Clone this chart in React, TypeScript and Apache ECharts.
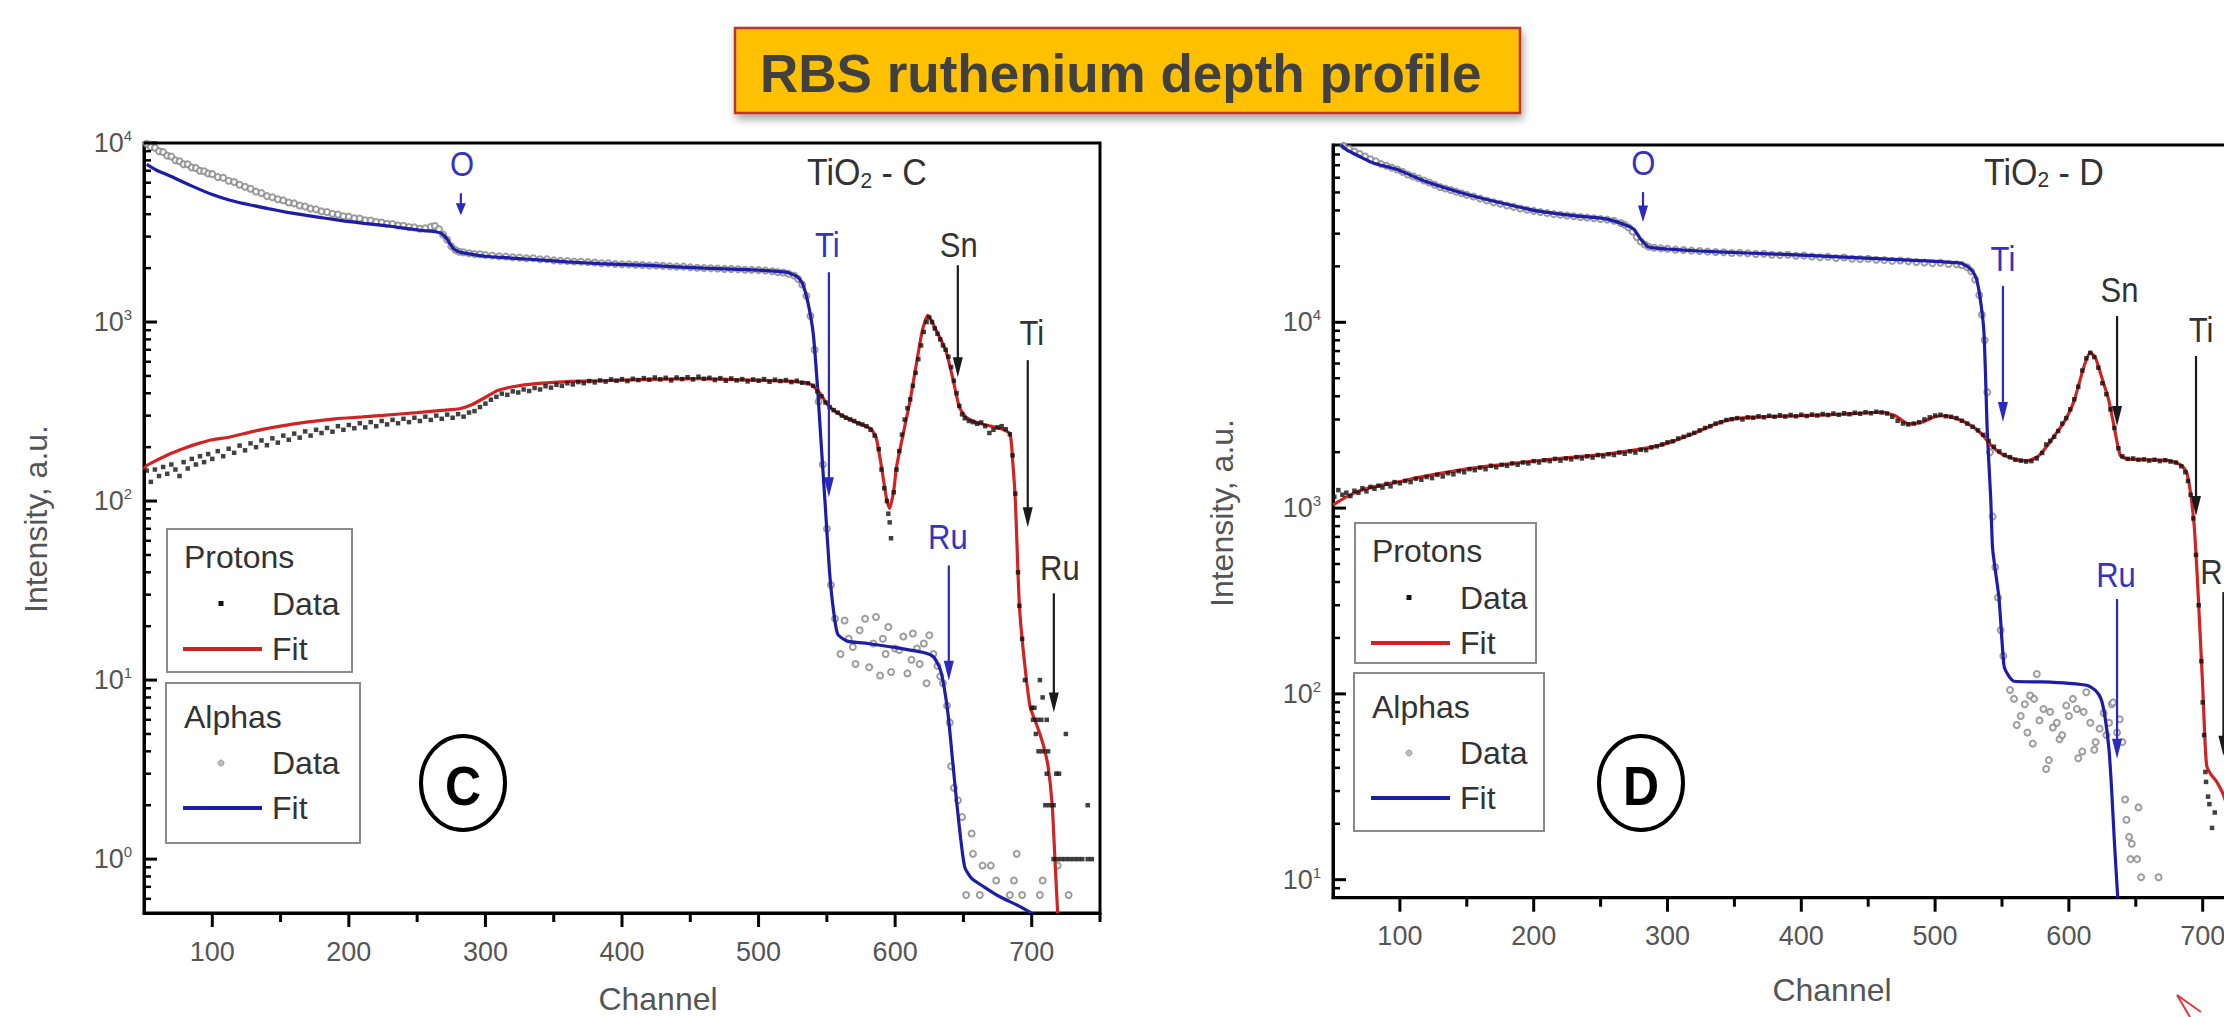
import React, { useEffect, useRef } from 'react';
import * as echarts from 'echarts';

const FONT = "'Liberation Sans', Arial, Helvetica, sans-serif";
const BLUE = '#1d1da8';
const RED = '#d02424';
const ANN_BLUE = '#3434bd';
const TEXT = '#333333';
const AXIS_TEXT = '#555555';
const GRAY = '#858585';

// ---------- Panel C (TiO2 - C) ----------
const alphaFitC: [number, number][] = [
  [52, 7600], [60, 7000], [70, 6500], [84, 5800], [100, 5150], [113, 4790], [127, 4520], [141, 4300],
  [155, 4100], [169, 3940], [183, 3800], [197, 3665], [211, 3560], [225, 3470], [239, 3360], [253, 3250],
  [264, 3185], [268, 3120], [272, 2900], [276, 2600], [280, 2480], [286, 2420], [300, 2330], [330, 2250],
  [360, 2170], [384, 2120], [420, 2070], [460, 2000], [500, 1950], [520, 1900], [528, 1800], [532, 1650],
  [536, 1300], [540, 865], [543, 450], [546, 200], [549, 90], [552, 40], [555, 24], [558, 18], [565, 16.5],
  [580, 16], [600, 15.2], [620, 14.3], [628, 13.5], [633, 11.5], [636, 9], [639, 6.2], [642, 3.6],
  [645, 2.1], [648, 1.3], [651, 0.9], [656, 0.78], [665, 0.7], [676, 0.62], [690, 0.55], [701, 0.495],
];

const alphaDataC: [number, number][] = [
  [52, 9900], [55, 9500], [58, 9400], [61, 9000], [64, 8900], [67, 8500], [70, 8400], [73, 8000], [76, 7900],
  [79, 7600], [82, 7600], [85, 7300], [88, 7250], [91, 7000], [94, 6950], [97, 6750], [100, 6700], [104, 6450],
  [108, 6400], [112, 6150], [116, 6050], [120, 5850], [124, 5700], [128, 5550], [132, 5350], [136, 5250],
  [140, 5050], [144, 4980], [148, 4850], [152, 4780], [156, 4650], [160, 4600], [164, 4480], [168, 4420],
  [172, 4300], [176, 4260], [180, 4150], [184, 4120], [188, 4020], [192, 3990], [196, 3900], [200, 3880],
  [204, 3800], [208, 3790], [212, 3700], [216, 3690], [220, 3620], [224, 3600], [228, 3540], [232, 3530],
  [236, 3460], [240, 3450], [244, 3390], [248, 3380], [252, 3320], [256, 3340], [260, 3400], [263, 3440],
  [266, 3300], [269, 3080], [272, 2880], [275, 2650], [278, 2530], [281, 2470], [284, 2450], [288, 2420],
  [292, 2400], [296, 2390], [300, 2370], [305, 2350], [310, 2330], [315, 2320], [320, 2300], [325, 2290],
  [330, 2270], [335, 2270], [340, 2240], [345, 2240], [350, 2210], [355, 2200], [360, 2190], [365, 2180],
  [370, 2170], [375, 2160], [380, 2150], [385, 2130], [390, 2130], [395, 2110], [400, 2100], [405, 2100],
  [410, 2090], [415, 2080], [420, 2070], [425, 2070], [430, 2060], [435, 2050], [440, 2040], [445, 2040],
  [450, 2020], [455, 2010], [460, 2000], [465, 1995], [470, 1990], [475, 1980], [480, 1980], [485, 1970],
  [490, 1960], [495, 1955], [500, 1950], [505, 1940], [510, 1920], [514, 1900], [518, 1890], [522, 1860],
  [526, 1820], [529, 1740], [532, 1620], [535, 1400], [538, 1080], [541, 700], [544, 360], [547, 160],
  [550, 70], [553, 34],
  [556, 22], [560, 14], [563, 21.5], [566, 17], [569, 15.3], [571, 12.3], [574, 19], [578, 22], [581, 11.8],
  [584, 16], [586, 22.5], [589, 10.6], [591, 17], [593, 14], [595, 19.8], [597, 11.1], [600, 15], [603, 14.7],
  [606, 17.5], [609, 10.9], [612, 13], [613, 18.2], [616, 15], [618, 12.3], [621, 16], [623, 9.6], [625, 17.8],
  [628, 14], [631, 12], [633, 10.5], [635, 9.6], [638, 7.2], [640, 5.8], [641, 3.3], [643, 2.5], [646, 2.13],
  [649, 1.72],
  [652, 0.63], [656, 1.39], [657, 1.07], [662, 0.63], [664, 0.92], [670, 0.92], [674, 0.76], [684, 0.63],
  [687, 0.76], [689, 1.07], [693, 0.63], [706, 0.63], [708, 0.76], [719, 0.92], [727, 0.63],
];

const protonFitC: [number, number][] = [
  [50, 150], [52, 158], [60, 170], [70, 185], [80, 198], [90, 210], [100, 220], [113, 228], [130, 245],
  [150, 262], [169, 276], [190, 288], [210, 295], [225, 301], [250, 312], [270, 322], [281, 328], [290, 345],
  [300, 380], [309, 415], [320, 435], [337, 453], [360, 465], [384, 470], [420, 478], [457, 483], [490, 475],
  [520, 468], [537, 453], [545, 400], [550, 350], [555, 321], [565, 290], [575, 268], [582, 254], [586, 228],
  [590, 155], [594, 100], [596, 91], [599, 115], [601, 155], [606, 239], [611, 366], [616, 611], [620, 900],
  [624, 1090], [630, 900], [637, 695], [642, 493], [647, 335], [652, 294], [660, 275], [670, 262], [677, 254],
  [684, 238], [686, 170], [688, 101], [691, 26], [695, 12], [699, 7], [703, 5.8], [706, 5.0], [709, 4.2],
  [712, 3.3], [715, 2], [717, 1], [719, 0.5],
];

const protonDataC: [number, number][] = [
  [52, 148], [55, 128], [58, 150], [61, 138], [64, 155], [67, 142], [70, 160], [73, 150], [76, 138], [79, 165],
  [82, 152], [85, 172], [88, 160], [91, 178], [94, 165], [97, 183], [100, 172], [104, 190], [108, 178],
  [112, 196], [116, 186], [120, 204], [124, 192], [128, 210], [132, 200], [136, 218], [140, 205], [144, 224],
  [148, 212], [152, 232], [156, 220], [160, 238], [164, 226], [168, 245], [172, 232], [176, 250], [180, 240],
  [184, 256], [188, 244], [192, 262], [196, 250], [200, 266], [204, 255], [208, 272], [212, 258], [216, 276],
  [220, 262], [224, 280], [228, 268], [232, 284], [236, 272], [240, 288], [244, 276], [248, 292], [252, 280],
  [256, 296], [260, 284], [264, 300], [268, 288], [272, 304], [276, 292], [280, 306], [284, 296], [288, 312],
  [292, 318], [296, 335], [300, 350], [304, 368], [308, 382], [312, 398], [316, 392], [320, 410], [324, 404],
  [328, 420], [332, 412], [336, 428], [340, 420], [344, 438], [348, 430], [352, 446], [356, 440], [360, 455],
  [364, 448], [368, 462], [372, 455], [376, 468], [380, 460], [384, 472], [388, 465], [392, 478], [396, 470],
  [400, 480], [404, 468], [408, 482], [412, 474], [416, 486], [420, 476], [424, 490], [428, 478], [432, 488],
  [436, 472], [440, 490], [444, 480], [448, 492], [452, 478], [456, 495], [460, 482], [464, 488], [468, 474],
  [472, 486], [476, 470], [480, 484], [484, 472], [488, 480], [492, 466], [496, 478], [500, 470], [504, 480],
  [508, 464], [512, 476], [516, 468], [520, 474], [524, 462], [528, 470], [532, 458], [536, 455], [540, 440],
  [543, 410], [546, 385], [549, 355], [552, 335], [555, 322], [558, 312], [561, 300], [564, 292], [567, 286],
  [570, 280], [573, 272], [576, 268], [579, 262], [582, 250], [585, 232], [588, 195], [590, 150], [592, 118],
  [594, 100], [595, 85], [596, 76], [597, 62], [599, 112], [601, 150], [603, 190], [605, 235], [607, 285],
  [609, 330], [611, 370], [613, 440], [615, 520], [617, 620], [619, 740], [621, 880], [623, 1000], [625, 1060],
  [627, 1000], [629, 920], [631, 860], [633, 800], [635, 740], [637, 700], [639, 640], [641, 560], [643, 470],
  [645, 400], [647, 340], [649, 305], [651, 290], [654, 280], [657, 276], [660, 270], [663, 275], [666, 262],
  [669, 240], [672, 250], [675, 258], [678, 262], [681, 252], [684, 236], [686, 180], [688, 110], [690, 40],
  [691, 26], [693, 17], [695, 10], [700, 7], [702, 7], [701, 6], [704, 6], [707, 6], [711, 6], [706, 10],
  [708, 8], [703, 5], [725, 5], [705, 4], [708, 4], [712, 4], [711, 3], [718, 3], [720, 3], [710, 2], [713, 2],
  [716, 2], [741, 2], [716, 1], [719, 1], [722, 1], [725, 1], [728, 1], [731, 1], [734, 1], [737, 1], [741, 1],
  [744, 1],
];

// ---------- Panel D (TiO2 - D) ----------
const alphaFitD: [number, number][] = [
  [56, 90000], [60, 85000], [70, 78000], [80, 72000], [97, 66800], [120, 57000], [149, 49000], [175, 44000],
  [202, 39800], [230, 37500], [254, 36000], [270, 33100], [275, 31600], [280, 28000], [286, 25400],
  [300, 24800], [324, 24200], [360, 23600], [400, 23000], [440, 22300], [480, 21600], [519, 20800],
  [526, 19500], [530, 17800], [533, 14500], [536.5, 8840], [539, 2570], [541.6, 1120], [543, 603],
  [547.8, 325], [551.5, 142], [555, 125], [559, 117], [580, 116], [600, 114], [614, 111], [620, 104],
  [624, 94], [627, 75], [630, 50], [632, 30], [634, 16], [636.5, 8],
];

const alphaDataD: [number, number][] = [
  [58, 89000], [62, 86000], [66, 83000], [70, 80500], [74, 78000], [78, 75500], [82, 73500], [86, 71000],
  [90, 69500], [94, 68000], [98, 66500], [102, 64500], [106, 62500], [110, 61000], [114, 59500], [118, 58000],
  [122, 56500], [126, 55000], [130, 53500], [134, 52500], [138, 51500], [142, 50500], [146, 49500],
  [150, 48500], [155, 47500], [160, 46300], [165, 45200], [170, 44300], [175, 43500], [180, 42500],
  [185, 41800], [190, 41000], [195, 40300], [200, 39800], [205, 39200], [210, 38700], [215, 38200],
  [220, 37900], [225, 37500], [230, 37200], [235, 36900], [240, 36600], [245, 36300], [250, 36000],
  [255, 35700], [260, 35200], [265, 34200], [268, 33500], [271, 32400], [274, 30800], [277, 28800],
  [280, 27200], [283, 26200], [286, 25500], [290, 25200], [295, 25000], [300, 24900], [306, 24600],
  [312, 24500], [318, 24300], [324, 24200], [330, 24000], [336, 23900], [342, 23800], [348, 23600],
  [354, 23700], [360, 23500], [366, 23300], [372, 23400], [378, 23100], [384, 23000], [390, 23100],
  [396, 22800], [402, 22900], [408, 22600], [414, 22400], [420, 22500], [426, 22200], [432, 22300],
  [438, 22000], [444, 21900], [450, 22000], [456, 21700], [462, 21600], [468, 21400], [474, 21500],
  [480, 21300], [486, 21100], [492, 21000], [498, 20800], [504, 20900], [510, 20600], [516, 20500],
  [520, 20300], [524, 19800], [527, 18800], [530, 17000], [533, 14000], [535, 11000], [537, 8000],
  [539, 4200], [541, 2000], [543, 900], [545, 480], [547, 330], [549, 220], [551, 160],
  [556, 105], [559, 94], [561, 68], [564, 76], [567, 88], [569, 62], [571, 98], [573, 54], [574, 94],
  [576, 128], [578, 72], [581, 83], [583, 39.4], [585, 44], [586, 80], [588, 66], [591, 70], [593, 57],
  [595, 60], [598, 86.5], [600, 76], [603, 94], [606, 83], [607, 45], [610, 49], [611, 80], [613, 102],
  [616, 70], [619, 50], [620, 55], [623, 65], [626, 79], [628, 60], [630, 70], [632, 88], [633, 90],
  [636, 62], [638, 73], [640, 55],
  [642, 27], [643, 21], [645, 17], [647, 15.6], [646, 12.9], [651, 12.9], [652, 24.5], [654, 10.3],
  [667, 10.3],
];

const protonFitD: [number, number][] = [
  [50, 1040], [52, 1060], [60, 1150], [70, 1240], [80, 1300], [97, 1377], [120, 1490], [149, 1622],
  [175, 1710], [202, 1798], [230, 1880], [254, 1954], [275, 2050], [293, 2168], [305, 2300], [315, 2450],
  [324, 2600], [335, 2820], [349, 3020], [370, 3100], [399, 3140], [430, 3200], [460, 3280], [470, 3150],
  [480, 2840], [490, 2900], [500, 3100], [507, 3140], [518, 3000], [529, 2720], [536, 2450], [542, 2170],
  [550, 1950], [560, 1830], [569, 1800], [577, 1900], [584, 2170], [590, 2500], [595, 2800], [599, 3140],
  [604, 3800], [608, 4800], [612, 6000], [616, 6900], [620, 6400], [624, 5200], [629.6, 3860], [634, 2700],
  [638.5, 1914], [645, 1838], [660, 1820], [675, 1800], [684, 1700], [688, 1560], [691, 1200], [693, 900],
  [694, 743], [696, 420], [698, 215], [700, 110], [701.5, 60], [703, 41], [706, 37], [710.5, 33.6],
  [716, 28], [722, 20], [728, 12],
];

const protonDataD: [number, number][] = [
  [51, 1150], [54, 1250], [57, 1180], [60, 1210], [63, 1160], [66, 1240], [69, 1210], [72, 1280], [75, 1230],
  [78, 1300], [81, 1270], [84, 1320], [87, 1290], [90, 1350], [93, 1310], [96, 1380], [100, 1360], [104, 1400],
  [108, 1380], [112, 1440], [116, 1420], [120, 1470], [124, 1450], [128, 1510], [132, 1480], [136, 1540],
  [140, 1520], [144, 1580], [148, 1560], [152, 1620], [156, 1600], [160, 1650], [164, 1620], [168, 1690],
  [172, 1660], [176, 1710], [180, 1690], [184, 1740], [188, 1710], [192, 1760], [196, 1740], [200, 1790],
  [204, 1760], [208, 1810], [212, 1790], [216, 1840], [220, 1800], [224, 1850], [228, 1830], [232, 1880],
  [236, 1850], [240, 1900], [244, 1870], [248, 1930], [252, 1900], [256, 1950], [260, 1930], [264, 1990],
  [268, 1960], [272, 2020], [276, 1990], [280, 2060], [284, 2050], [288, 2120], [292, 2150], [296, 2200],
  [300, 2260], [304, 2290], [308, 2370], [312, 2420], [316, 2480], [320, 2540], [324, 2620], [328, 2700],
  [332, 2760], [336, 2850], [340, 2900], [344, 2980], [348, 3010], [352, 3050], [356, 3000], [360, 3080],
  [364, 3060], [368, 3120], [372, 3080], [376, 3140], [380, 3100], [384, 3160], [388, 3110], [392, 3170],
  [396, 3120], [400, 3180], [404, 3130], [408, 3190], [412, 3150], [416, 3210], [420, 3170], [424, 3230],
  [428, 3180], [432, 3240], [436, 3200], [440, 3260], [444, 3220], [448, 3280], [452, 3240], [456, 3300],
  [460, 3270], [464, 3230], [468, 3100], [472, 2950], [476, 2850], [480, 2820], [484, 2850], [488, 2900],
  [492, 3000], [496, 3080], [500, 3150], [504, 3180], [508, 3120], [512, 3100], [516, 3050], [520, 2950],
  [524, 2850], [528, 2740], [532, 2620], [536, 2480], [540, 2300], [544, 2140], [548, 2020], [552, 1930],
  [556, 1880], [560, 1820], [564, 1800], [568, 1780], [572, 1790], [576, 1850], [580, 1980], [583, 2200],
  [586, 2300], [589, 2420], [592, 2600], [595, 2850], [598, 3050], [601, 3400], [604, 3850], [607, 4500],
  [610, 5500], [613, 6400], [616, 6850], [619, 6500], [622, 5700], [625, 4700], [628, 4100], [631, 3400],
  [634, 2700], [637, 2100], [640, 1900], [644, 1840], [648, 1850], [652, 1820], [656, 1830], [660, 1800],
  [664, 1820], [668, 1790], [672, 1810], [676, 1780], [680, 1760], [684, 1680], [687, 1560], [689, 1400],
  [691, 1180], [693, 880], [695, 560], [697, 300], [699, 150], [700, 90], [701, 60], [702, 38], [702.5, 33.6],
  [704, 28], [705, 25.5], [707, 19], [709, 23],
];

// ---------- ticks ----------
const xMajorTicks = [100, 200, 300, 400, 500, 600, 700];
const xMinorTicks = [150, 250, 350, 450, 550, 650, 750];
const yMajorC = [1, 10, 100, 1000, 10000];
const yMinorC = [0.6, 0.7, 0.8, 0.9, 2, 3, 4, 5, 6, 7, 8, 9, 20, 30, 40, 50, 60, 70, 80, 90,
  200, 300, 400, 500, 600, 700, 800, 900, 2000, 3000, 4000, 5000, 6000, 7000, 8000, 9000];
const yMajorD = [10, 100, 1000, 10000];
const yMinorD = [9, 20, 30, 40, 50, 60, 70, 80, 90, 200, 300, 400, 500, 600, 700, 800, 900,
  2000, 3000, 4000, 5000, 6000, 7000, 8000, 9000, 20000, 30000, 40000, 50000, 60000, 70000, 80000];

// ---------- annotations (data coordinates) ----------
const annotationsC = [
  { label: 'O', color: ANN_BLUE, ch: 282.8, v: 7600, arrow: [282, 5240, 3945] },
  { label: 'Ti', color: ANN_BLUE, ch: 550.4, v: 2683, arrow: [551.5, 1897, 105] },
  { label: 'Sn', color: TEXT, ch: 646.6, v: 2683, arrow: [645.9, 2076, 491] },
  { label: 'Ti', color: TEXT, ch: 700, v: 865, arrow: [697.1, 612, 71.3] },
  { label: 'Ru', color: ANN_BLUE, ch: 638.6, v: 62.7, arrow: [639.3, 43.7, 9.9] },
  { label: 'Ru', color: TEXT, ch: 720.6, v: 42.6, arrow: [716.2, 30.5, 6.6] },
];
const annotationsD = [
  { label: 'O', color: ANN_BLUE, ch: 282, v: 71900, arrow: [281.7, 50200, 34700] },
  { label: 'Ti', color: ANN_BLUE, ch: 550.7, v: 21900, arrow: [550.7, 15700, 2904] },
  { label: 'Sn', color: TEXT, ch: 637.8, v: 14900, arrow: [636, 10800, 2767] },
  { label: 'Ti', color: TEXT, ch: 698.7, v: 9080, arrow: [695, 6590, 906] },
  { label: 'Ru', color: ANN_BLUE, ch: 635.2, v: 437, arrow: [636, 324, 44.7] },
  { label: 'Ru', color: TEXT, ch: 713, v: 453, arrow: [715.5, 353, 46.4] },
];
const sampleC = { name: 'C', ch: 535.4, v: 6860 };
const sampleD = { name: 'D', ch: 536.5, v: 64400 };

const X_MIN = 50;
const X_MAX = 750;
const Y_MIN_C = 0.5;
const Y_MAX_C = 10000;
const Y_MIN_D = 8;
const Y_MAX_D = 90000;

function tickData(yMaj: number[], yMin: number[]) {
  return [
    ...xMajorTicks.map((v) => [0, v]),
    ...xMinorTicks.map((v) => [1, v]),
    ...yMaj.map((v) => [2, v]),
    ...yMin.map((v) => [3, v]),
  ];
}

function tickRenderer(xLo: number, yLo: number) {
  return (_params: any, api: any) => {
    const kind = api.value(0);
    const val = api.value(1);
    if (kind <= 1) {
      const p = api.coord([val, yLo]);
      const len = kind === 0 ? 14 : 9;
      return { type: 'line', shape: { x1: p[0], y1: p[1], x2: p[0], y2: p[1] + len }, style: { stroke: '#000', lineWidth: 3 } };
    }
    const p = api.coord([xLo, val]);
    const len = kind === 2 ? 13 : 7;
    return { type: 'line', shape: { x1: p[0], y1: p[1], x2: p[0] + len, y2: p[1] }, style: { stroke: '#000', lineWidth: kind === 2 ? 3 : 2.5 } };
  };
}

const yLabel = {
  margin: 12,
  color: AXIS_TEXT,
  formatter: (v: number) => {
    const l = Math.log10(v);
    const e = Math.round(l);
    return Math.abs(l - e) < 1e-6 ? `{b|10}{s|${e}}` : '';
  },
  rich: {
    b: { fontSize: 27, color: AXIS_TEXT, fontFamily: FONT, lineHeight: 30 },
    s: { fontSize: 15, color: AXIS_TEXT, fontFamily: FONT, verticalAlign: 'top', lineHeight: 16 },
  },
};

const xLabel = {
  margin: 25,
  color: AXIS_TEXT,
  fontSize: 27,
  fontFamily: FONT,
  formatter: (v: number) => (v % 100 === 0 ? String(v) : ''),
};

function xAxisCfg(gridIndex: number) {
  return {
    type: 'value', gridIndex, min: X_MIN, max: X_MAX, interval: 50,
    axisLine: { show: true, lineStyle: { color: '#000', width: 3 } },
    axisTick: { show: false }, splitLine: { show: false }, axisLabel: xLabel,
  };
}
function yAxisCfg(gridIndex: number, min: number, max: number) {
  return {
    type: 'log', logBase: 10, gridIndex, min, max,
    axisLine: { show: true, lineStyle: { color: '#000', width: 3 } },
    axisTick: { show: false }, minorTick: { show: false }, splitLine: { show: false }, axisLabel: yLabel,
  };
}

function panelSeries(idx: number, aData: any, aFit: any, pFit: any, pData: any, ticks: any, yLo: number) {
  return [
    { type: 'scatter', xAxisIndex: idx, yAxisIndex: idx, data: aData, symbol: 'emptyCircle', symbolSize: 6,
      itemStyle: { color: GRAY, borderWidth: 1.3 }, z: 2, silent: true },
    { type: 'line', xAxisIndex: idx, yAxisIndex: idx, data: aFit, showSymbol: false, smooth: 0.2,
      lineStyle: { color: BLUE, width: 3.2 }, z: 3, silent: true },
    { type: 'line', xAxisIndex: idx, yAxisIndex: idx, data: pFit, showSymbol: false, smooth: 0.2,
      lineStyle: { color: RED, width: 3.2 }, z: 3, silent: true },
    { type: 'scatter', xAxisIndex: idx, yAxisIndex: idx, data: pData, symbol: 'rect', symbolSize: 4.5,
      itemStyle: { color: '#111' }, z: 4, silent: true },
    { type: 'custom', xAxisIndex: idx, yAxisIndex: idx, data: ticks, renderItem: tickRenderer(X_MIN, yLo),
      clip: false, z: 6, silent: true },
  ];
}

const txt = (x: number, y: number, text: string, fontSize: number, fill: string, align = 'left', extra: any = {}) => ({
  type: 'text', x, y, scaleY: extra.scaleY ?? 1, rotation: extra.rotation ?? 0, z: 20,
  style: {
    text, fill, fontSize, fontFamily: FONT, fontWeight: extra.fontWeight ?? 'normal',
    textAlign: align, verticalAlign: 'middle', textVerticalAlign: 'middle', rich: extra.rich,
  },
});

function legend(left: number, top: number, w1: number, h1: number, w2: number, h2: number, gap: number) {
  const els: any[] = [];
  const ax = left + 17;
  const dx = left + 54;
  const tx = left + 105;
  els.push({ type: 'rect', shape: { x: left, y: top, width: w1, height: h1 }, style: { fill: '#fff', stroke: '#8a8a8a', lineWidth: 2 }, z: 15 });
  els.push(txt(ax, top + 28, 'Protons', 32, TEXT));
  els.push({ type: 'rect', shape: { x: dx - 2.5, y: top + 72, width: 5, height: 5 }, style: { fill: '#111' }, z: 20 });
  els.push(txt(tx, top + 75, 'Data', 32, TEXT));
  els.push({ type: 'line', shape: { x1: ax - 1, y1: top + 120, x2: ax + 78, y2: top + 120 }, style: { stroke: RED, lineWidth: 4 }, z: 20 });
  els.push(txt(tx, top + 120, 'Fit', 32, TEXT));
  const t2 = top + h1 + gap;
  els.push({ type: 'rect', shape: { x: left - 1, y: t2, width: w2, height: h2 }, style: { fill: '#fff', stroke: '#8a8a8a', lineWidth: 2 }, z: 15 });
  els.push(txt(ax, t2 + 34, 'Alphas', 32, TEXT));
  els.push({ type: 'circle', shape: { cx: dx, cy: t2 + 80, r: 3 }, style: { fill: '#bdbdbd', stroke: '#9a9a9a', lineWidth: 1 }, z: 20 });
  els.push(txt(tx, t2 + 80, 'Data', 32, TEXT));
  els.push({ type: 'line', shape: { x1: ax - 1, y1: t2 + 125, x2: ax + 78, y2: t2 + 125 }, style: { stroke: BLUE, lineWidth: 4 }, z: 20 });
  els.push(txt(tx, t2 + 125, 'Fit', 32, TEXT));
  return els;
}

function circledLetter(cx: number, cy: number, letter: string) {
  return [
    { type: 'ellipse', shape: { cx, cy, rx: 42, ry: 47 }, style: { fill: 'none', stroke: '#000', lineWidth: 4 }, z: 20 },
    txt(cx, cy + 2, letter, 50, '#000', 'center', { fontWeight: 'bold', scaleY: 1.12 }),
  ];
}

export default function App() {
  const ref = useRef<HTMLDivElement>(null);
  useEffect(() => {
    if (!ref.current) return;
    const chart = echarts.init(ref.current, null, { renderer: 'svg' });
    const option: any = {
      animation: false,
      backgroundColor: '#ffffff',
      textStyle: { fontFamily: FONT },
      grid: [
        { left: 144, top: 143, width: 956, height: 770, show: true, borderColor: '#000', borderWidth: 3, backgroundColor: 'transparent' },
        { left: 1333, top: 145, width: 936.6, height: 752.7, show: true, borderColor: '#000', borderWidth: 3, backgroundColor: 'transparent' },
      ],
      xAxis: [xAxisCfg(0), xAxisCfg(1)],
      yAxis: [yAxisCfg(0, Y_MIN_C, Y_MAX_C), yAxisCfg(1, Y_MIN_D, Y_MAX_D)],
      series: [
        ...panelSeries(0, alphaDataC, alphaFitC, protonFitC, protonDataC, tickData(yMajorC, yMinorC), Y_MIN_C),
        ...panelSeries(1, alphaDataD, alphaFitD, protonFitD, protonDataD, tickData(yMajorD, yMinorD), Y_MIN_D),
      ],
    };
    chart.setOption(option);

    const toPx = (panel: number, ch: number, v: number) =>
      chart.convertToPixel({ xAxisIndex: panel, yAxisIndex: panel } as any, [ch, v]) as unknown as number[];

    const g: any[] = [];
    // title box
    g.push({
      type: 'rect', shape: { x: 735, y: 28, width: 785, height: 85 }, z: 30,
      style: { fill: '#FFC000', stroke: '#C0302A', lineWidth: 2.5, shadowBlur: 8, shadowOffsetX: 2, shadowOffsetY: 5, shadowColor: 'rgba(0,0,0,0.35)' },
    });
    g.push({ ...txt(760, 73, 'RBS ruthenium depth profile', 53, '#404040', 'left', { fontWeight: 'bold' }), z: 31 });

    const drawAnn = (panel: number, list: any[]) => {
      list.forEach((a) => {
        const p = toPx(panel, a.ch, a.v);
        g.push(txt(p[0], p[1], a.label, 31, a.color, 'center', { scaleY: 1.12 }));
        const [ach, v1, v2] = a.arrow;
        const s = toPx(panel, ach, v1);
        const e = toPx(panel, ach, v2);
        const stroke = a.color === ANN_BLUE ? '#2a2ac0' : '#1a1a1a';
        const head = Math.min(20, (e[1] - s[1]) * 0.55);
        g.push({ type: 'line', shape: { x1: s[0], y1: s[1], x2: e[0], y2: e[1] - head + 2 }, style: { stroke, lineWidth: 2.2 }, z: 20 });
        g.push({ type: 'polygon', shape: { points: [[e[0] - 5, e[1] - head], [e[0] + 5, e[1] - head], [e[0], e[1]]] }, style: { fill: stroke }, z: 20 });
      });
    };
    drawAnn(0, annotationsC);
    drawAnn(1, annotationsD);

    const sampleRich = {
      a: { fontSize: 34, fill: TEXT, color: TEXT, fontFamily: FONT },
      s: { fontSize: 21, fill: TEXT, color: TEXT, fontFamily: FONT, verticalAlign: 'bottom', padding: [14, 0, 0, 0] },
    };
    [[0, sampleC], [1, sampleD]].forEach(([panel, sm]: any) => {
      const p = toPx(panel, sm.ch, sm.v);
      g.push(txt(p[0], p[1], `{a|TiO}{s|2}{a| - ${sm.name}}`, 34, TEXT, 'left', { rich: sampleRich, scaleY: 1.08 }));
    });

    // legends and circled letters
    g.push(...legend(167, 529, 185, 143, 194, 160, 11));
    g.push(...legend(1355, 523, 181, 140, 190, 158, 10));
    g.push(...circledLetter(463, 783, 'C'));
    g.push(...circledLetter(1641, 783, 'D'));

    // axis titles
    g.push(txt(36, 519, 'Intensity, a.u.', 32, AXIS_TEXT, 'center', { rotation: Math.PI / 2 }));
    g.push(txt(1222, 513, 'Intensity, a.u.', 32, AXIS_TEXT, 'center', { rotation: Math.PI / 2 }));
    g.push(txt(658, 999, 'Channel', 32, AXIS_TEXT, 'center'));
    g.push(txt(1832, 990, 'Channel', 32, AXIS_TEXT, 'center'));

    // small red pointer mark at bottom right
    g.push({ type: 'polyline', shape: { points: [[2201, 1012], [2177, 995], [2190, 1017]] }, style: { stroke: '#e03a3a', lineWidth: 2, fill: 'none' }, z: 20 });

    chart.setOption({ graphic: g });
    return () => chart.dispose();
  }, []);
  // The container is wider than the 2224px page on purpose: the right panel runs past the page edge, as in the reference.
  return <div ref={ref} style={{ position: 'fixed', left: 0, top: 0, width: 2290, height: 1017, background: '#fff' }} />;
}
